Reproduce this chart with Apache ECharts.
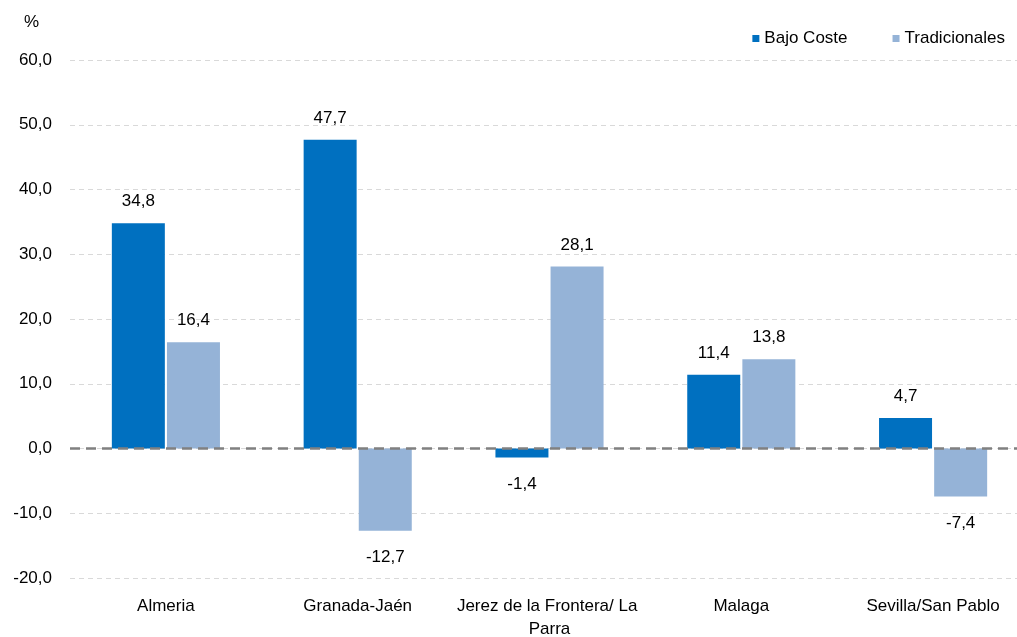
<!DOCTYPE html>
<html><head><meta charset="utf-8">
<script src="https://cdn.jsdelivr.net/npm/echarts@6/dist/echarts.min.js"></script>
<style>html,body{margin:0;padding:0;background:#fff;overflow:hidden}#c{width:1017px;height:637px}</style>
</head><body><div id="c"></div>
<script>
const categories = ["Almeria", "Granada-Jaén", "Jerez de la Frontera/ La Parra", "Malaga", "Sevilla/San Pablo"];
const bajoCoste = [34.8, 47.7, -1.4, 11.4, 4.7];
const tradicionales = [16.4, -12.7, 28.1, 13.8, -7.4];
const seriesNames = ["Bajo Coste", "Tradicionales"];
const yMin = -20, yMax = 60, yStep = 10;

const FONT = '"Liberation Sans", Arial, sans-serif';
const fmt = v => v.toFixed(1).replace('.', ',');

function mkSeries(name, data, color) {
  return {
    name, type: 'bar', data: data.map(v => ({
      value: v,
      label: v >= 0 ? { position: 'top', distance: 13 } : { position: 'bottom', distance: 18 }
    })),
    barWidth: 53, barGap: '4%',
    itemStyle: { color },
    label: { show: true, color: '#000', fontSize: 17, fontFamily: FONT,
      formatter: p => fmt(p.value) },
    emphasis: { disabled: true }
  };
}

const chart = echarts.init(document.getElementById('c'));
chart.setOption({
  animation: false,
  textStyle: { fontFamily: FONT },
  grid: { left: 70, top: 60, width: 959, height: 518, outerBoundsMode: 'none', containLabel: false },
  legend: {
    right: 7, top: 25, itemWidth: 7, itemHeight: 7, itemGap: 45, icon: 'rect',
    textStyle: { fontSize: 17, color: '#000', fontFamily: FONT },
    data: seriesNames
  },
  graphic: [{ type: 'text', left: 24, top: 14, style: { text: '%', fill: '#000', font: '17px ' + FONT } }],
  xAxis: {
    type: 'category', data: categories,
    axisLine: { show: false }, axisTick: { show: false },
    axisLabel: { interval: 0, fontSize: 17, color: '#000', margin: 17, lineHeight: 23,
      width: 186, overflow: 'break' }
  },
  yAxis: {
    type: 'value', min: yMin, max: yMax, interval: yStep,
    axisLine: { show: false }, axisTick: { show: false },
    axisLabel: { fontSize: 17, color: '#000', margin: 18, formatter: v => fmt(v) },
    splitLine: { lineStyle: { color: '#d9d9d9', type: [5, 4], width: 1 } }
  },
  series: [
    Object.assign(mkSeries(seriesNames[0], bajoCoste, '#0070C0'), {
      markLine: {
        silent: true, symbol: 'none', label: { show: false },
        lineStyle: { color: '#808080', width: 2.5, type: [10, 6] },
        data: [{ yAxis: 0 }]
      }
    }),
    mkSeries(seriesNames[1], tradicionales, '#95B3D7')
  ]
});
</script></body></html>
